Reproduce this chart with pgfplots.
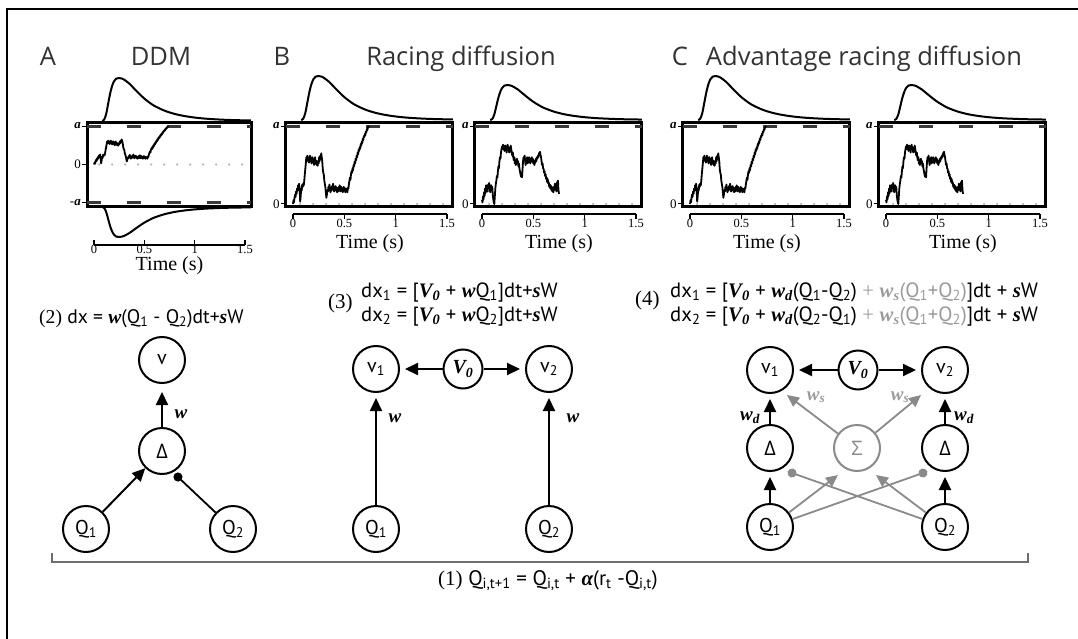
\documentclass[border=0pt]{standalone}
\usepackage{fontspec}
\setmainfont{PT Sans}
\newfontfamily\tm{Liberation Serif}
\newfontfamily\gr{Open Sans}
\usepackage{pgfplots}
\usepackage{pgfplotstable}
\pgfplotsset{compat=1.18}
\usetikzlibrary{arrows.meta}
\definecolor{txt}{HTML}{333333}
\definecolor{cDash}{HTML}{3A3A3A}
\definecolor{cDot}{HTML}{B4B4B4}
\definecolor{gA}{HTML}{8A8A8A}
\definecolor{gT}{HTML}{9A9A9A}
\definecolor{cBrk}{HTML}{6E6E6E}
\newcommand\bi[1]{{\tm\bfseries\itshape #1}}
\newcommand\sub[1]{\textsubscript{#1}}

\pgfplotstableread{
t d
0.08 0
0.1 0.03
0.12 0.16
0.14 0.4
0.16 0.64
0.18 0.82
0.2 0.93
0.22 0.985
0.25 1
0.28 0.985
0.3 0.96
0.35 0.87
0.4 0.75
0.45 0.63
0.5 0.52
0.55 0.43
0.6 0.35
0.7 0.24
0.8 0.165
0.9 0.115
1.0 0.08
1.1 0.056
1.2 0.04
1.3 0.028
1.4 0.02
1.5 0.015
1.5566 0.013
}\dens

\pgfplotstableread{
t v
0.00 0.00
0.005 0.05
0.01 0.02
0.015 0.08
0.02 0.12
0.025 0.09
0.03 0.16
0.035 0.13
0.04 0.2
0.045 0.17
0.05 0.24
0.055 0.2
0.06 0.26
0.065 0.18
0.07 0.03
0.075 0.1
0.08 0.2
0.085 0.17
0.09 0.25
0.095 0.22
0.1 0.26
0.105 0.24
0.11 0.3
0.115 0.38
0.12 0.45
0.125 0.52
0.13 0.6
0.135 0.56
0.14 0.62
0.145 0.55
0.15 0.59
0.155 0.53
0.16 0.58
0.165 0.62
0.17 0.55
0.175 0.6
0.18 0.52
0.185 0.57
0.19 0.6
0.195 0.53
0.2 0.58
0.205 0.5
0.21 0.55
0.215 0.6
0.22 0.52
0.225 0.56
0.23 0.5
0.235 0.55
0.24 0.49
0.245 0.55
0.25 0.52
0.255 0.6
0.26 0.55
0.265 0.62
0.27 0.58
0.275 0.65
0.28 0.6
0.285 0.55
0.29 0.45
0.295 0.4
0.3 0.38
0.305 0.3
0.31 0.26
0.315 0.22
0.32 0.15
0.325 0.08
0.33 0.12
0.335 0.18
0.34 0.16
0.345 0.22
0.35 0.18
0.355 0.25
0.36 0.2
0.365 0.15
0.37 0.2
0.375 0.17
0.38 0.23
0.385 0.19
0.39 0.26
0.395 0.2
0.4 0.16
0.405 0.22
0.41 0.18
0.415 0.23
0.42 0.17
0.425 0.21
0.43 0.15
0.435 0.2
0.44 0.16
0.445 0.22
0.45 0.17
0.455 0.24
0.46 0.2
0.465 0.16
0.47 0.22
0.475 0.18
0.48 0.2
0.485 0.15
0.49 0.19
0.495 0.22
0.5 0.17
0.505 0.2
0.51 0.15
0.515 0.2
0.52 0.16
0.525 0.19
0.53 0.15
0.535 0.21
0.54 0.2
0.545 0.26
0.55 0.3
0.555 0.34
0.56 0.31
0.565 0.38
0.57 0.42
0.575 0.4
0.58 0.46
0.585 0.43
0.59 0.5
0.595 0.48
0.6 0.54
0.605 0.52
0.61 0.58
0.615 0.56
0.62 0.62
0.625 0.6
0.63 0.66
0.635 0.64
0.64 0.7
0.645 0.68
0.65 0.73
0.655 0.71
0.66 0.77
0.665 0.75
0.67 0.8
0.675 0.78
0.68 0.84
0.685 0.82
0.69 0.87
0.695 0.86
0.7 0.9
0.705 0.88
0.71 0.93
0.715 0.92
0.72 0.96
0.725 0.95
0.73 0.98
0.74 1.0
}\pathone

\pgfplotstableread{
t v
0 0.05
0.005 0.02
0.01 0.1
0.015 0.06
0.02 0.15
0.025 0.1
0.03 0.2
0.035 0.14
0.04 0.24
0.045 0.18
0.05 0.22
0.055 0.16
0.06 0.25
0.065 0.2
0.07 0.27
0.075 0.22
0.08 0.15
0.085 0.2
0.09 0.24
0.095 0.18
0.1 0.22
0.105 0.12
0.11 0.06
0.115 0.02
0.12 0.0
0.125 0.1
0.13 0.2
0.135 0.26
0.14 0.3
0.145 0.36
0.15 0.34
0.155 0.42
0.16 0.48
0.165 0.46
0.17 0.55
0.175 0.6
0.18 0.58
0.185 0.66
0.19 0.7
0.195 0.74
0.2 0.72
0.205 0.76
0.21 0.7
0.215 0.74
0.22 0.68
0.225 0.75
0.23 0.7
0.235 0.74
0.24 0.66
0.245 0.72
0.25 0.76
0.255 0.7
0.26 0.73
0.265 0.66
0.27 0.72
0.275 0.67
0.28 0.75
0.285 0.7
0.29 0.66
0.295 0.62
0.3 0.66
0.305 0.6
0.31 0.56
0.315 0.6
0.32 0.52
0.325 0.55
0.33 0.5
0.335 0.56
0.34 0.58
0.345 0.52
0.35 0.55
0.355 0.48
0.36 0.52
0.365 0.45
0.37 0.42
0.375 0.38
0.38 0.35
0.385 0.4
0.39 0.34
0.395 0.45
0.4 0.55
0.405 0.6
0.41 0.56
0.415 0.62
0.42 0.55
0.425 0.5
0.43 0.58
0.435 0.55
0.44 0.6
0.445 0.52
0.45 0.58
0.455 0.54
0.46 0.6
0.465 0.56
0.47 0.52
0.475 0.58
0.48 0.55
0.485 0.6
0.49 0.54
0.495 0.58
0.5 0.52
0.505 0.56
0.51 0.5
0.515 0.55
0.52 0.53
0.525 0.58
0.53 0.55
0.535 0.6
0.54 0.58
0.545 0.62
0.55 0.6
0.555 0.65
0.56 0.64
0.565 0.67
0.57 0.63
0.575 0.6
0.58 0.55
0.585 0.5
0.59 0.52
0.595 0.46
0.6 0.45
0.605 0.4
0.61 0.42
0.615 0.36
0.62 0.38
0.625 0.32
0.63 0.34
0.635 0.28
0.64 0.32
0.645 0.26
0.65 0.28
0.655 0.22
0.66 0.25
0.665 0.2
0.67 0.24
0.675 0.18
0.68 0.22
0.685 0.16
0.69 0.2
0.695 0.15
0.7 0.22
0.705 0.18
0.71 0.26
0.715 0.2
0.72 0.24
0.725 0.16
0.73 0.28
0.735 0.22
0.74 0.3
0.745 0.18
0.75 0.13
}\pathtwo

\pgfplotsset{
  /pgf/number format/assume math mode=true,
  boxax/.style={scale only axis, width=167pt, height=84pt, xmin=-0.07, xmax=1.5566,
    ymin=-0.0385, ymax=1.0385, axis line style={line width=3pt}, xtick=\empty,
    ytick={0,1}, yticklabels={0,\bi{a}}, ytick pos=left, tick align=outside,
    major tick length=5pt, tick style={line width=1pt,black},
    yticklabel style={font=\tm\fontsize{13}{14}\selectfont, inner sep=1pt},
    clip=false, anchor=south west},
  densax/.style={scale only axis, width=167pt, xmin=-0.07, xmax=1.5566, ymin=0, ymax=1,
    hide axis, clip=false, anchor=south west},
  timeax/.style={scale only axis, width=154pt, height=10pt, xmin=0, xmax=1.5, ymin=0, ymax=1,
    axis x line=bottom, axis y line=none, axis line style={-, line width=1.8pt},
    xtick={0,0.5,1,1.5}, xticklabels={0,0.5,1,1.5}, ytick=\empty, tick align=outside,
    major tick length=5pt, tick style={line width=1.5pt, black},
    xticklabel style={font=\tm\fontsize{12.5}{14}\selectfont, inner sep=0pt},
    xlabel={Time (s)}, xlabel style={font=\tm\fontsize{20}{22}\selectfont,
      at={(axis description cs:0.5,0)}, anchor=center, yshift=-30pt},
    anchor=south west, clip=false},
  walk/.style={black, line width=1.8pt, line join=round},
  dens/.style={black, line width=2pt, smooth},
  aline/.style={cDash, line width=3pt, dash pattern=on 14pt off 26pt},
  zline/.style={cDot, line width=2.6pt, line cap=round, dash pattern=on 0pt off 13pt},
}
\tikzset{
  cn/.style={circle, draw, line width=2pt, minimum size=46pt, inner sep=0pt, font=\fontsize{20}{22}\selectfont},
  cs/.style={cn, minimum size=39pt},
  ar/.style={line width=2pt, -{Triangle[length=13pt,width=12pt]}, shorten >=5pt},
  gar/.style={gA, line width=1.8pt, -{Triangle[length=12pt,width=11pt]}},
  dt/.style={line width=1.8pt, -{Circle[length=9pt]}},
}

\begin{document}
\begin{tikzpicture}
\path[use as bounding box] (0pt,0pt) rectangle (1078pt,-639pt);
\draw[line width=1.5pt] (7pt,-639pt) -- (7pt,-9pt) -- (1078pt,-9pt);

% ---------- Panel A ----------
\begin{axis}[boxax, at={(87pt,-206pt)}, width=164pt, height=83pt, xmin=-0.07, xmax=1.559,
  ymin=-1.078, ymax=1.078, ytick={-1,0,1}, yticklabels={-\bi{a},0,\bi{a}}]
\addplot[zline] coordinates {(0.05,0) (1.559,0)};
\addplot[aline] coordinates {(-0.07,1) (1.559,1)};
\addplot[aline] coordinates {(-0.07,-1) (1.559,-1)};
\addplot[walk] table[x=t,y=v] {\pathone};
\end{axis}
\begin{axis}[densax, at={(87pt,-121pt)}, width=164pt, height=43pt, xmin=-0.07, xmax=1.559]
\addplot[dens] table[x=t,y=d] {\dens};
\end{axis}
\begin{axis}[densax, at={(87pt,-207pt)}, anchor=north west, width=164pt, height=30pt, xmin=-0.07, xmax=1.559, y dir=reverse]
\addplot[dens] table[x=t,y=d] {\dens};
\end{axis}
\begin{axis}[timeax, at={(94pt,-245pt)}, width=151pt, tick align=inside,
  xticklabel style={yshift=-0.3pt}, xlabel style={yshift=9pt}]
\end{axis}

% ---------- Panel B1 ----------
\begin{axis}[boxax, at={(285.8pt,-207pt)}]
\addplot[zline] coordinates {(0.07,0) (1.55,0)};
\addplot[aline] coordinates {(-0.07,1) (1.5566,1)};
\addplot[walk] table[x=t,y=v] {\pathone};
\end{axis}
\begin{axis}[densax, at={(285.8pt,-120pt)}, height=44pt]
\addplot[dens] table[x=t,y=d] {\dens};
\end{axis}
\begin{axis}[timeax, at={(293pt,-214pt)}]
\end{axis}

% ---------- Panel B2 ----------
\begin{axis}[boxax, at={(474.8pt,-207pt)}]
\addplot[zline] coordinates {(0.07,0) (1.55,0)};
\addplot[aline] coordinates {(-0.07,1) (1.5566,1)};
\addplot[walk] table[x=t,y=v] {\pathtwo};
\end{axis}
\begin{axis}[densax, at={(474.8pt,-120pt)}, height=35pt]
\addplot[dens] table[x=t,y=d] {\dens};
\end{axis}
\begin{axis}[timeax, at={(482pt,-214pt)}]
\end{axis}

% ---------- Panel C1 ----------
\begin{axis}[boxax, at={(682.8pt,-207pt)}]
\addplot[zline] coordinates {(0.07,0) (1.55,0)};
\addplot[aline] coordinates {(-0.07,1) (1.5566,1)};
\addplot[walk] table[x=t,y=v] {\pathone};
\end{axis}
\begin{axis}[densax, at={(682.8pt,-120pt)}, height=44pt]
\addplot[dens] table[x=t,y=d] {\dens};
\end{axis}
\begin{axis}[timeax, at={(690pt,-214pt)}]
\end{axis}

% ---------- Panel C2 ----------
\begin{axis}[boxax, at={(878.8pt,-207pt)}]
\addplot[zline] coordinates {(0.07,0) (1.55,0)};
\addplot[aline] coordinates {(-0.07,1) (1.5566,1)};
\addplot[walk] table[x=t,y=v] {\pathtwo};
\end{axis}
\begin{axis}[densax, at={(878.8pt,-120pt)}, height=35pt]
\addplot[dens] table[x=t,y=d] {\dens};
\end{axis}
\begin{axis}[timeax, at={(886pt,-214pt)}]
\end{axis}

\begin{scope}[x=1pt, y=-1pt]
% titles
\begin{scope}[every node/.style={text=txt, inner sep=0pt, font=\gr\fontsize{25.5}{30}\selectfont}]
\node[anchor=base] at (48,66) {A};
\node[anchor=base] at (161,66) {DDM};
\node[anchor=base] at (282,66) {B};
\node[anchor=base] at (461,66) {Racing diffusion};
\node[anchor=base] at (680,66) {C};
\node[anchor=base] at (864,66) {Advantage racing diffusion};
\end{scope}

% equations
\begin{scope}[every node/.style={inner sep=0pt}]
\node[anchor=base west, font=\fontsize{19.6}{22}\selectfont] at (39,323) {{\tm (2)} dx = \bi{w}(Q\sub{1} - Q\sub{2})dt+\bi{s}W};
\node[anchor=base west, font=\fontsize{21}{22}\selectfont] at (328,308) {\tm (3)};
\node[anchor=base west, font=\fontsize{20.6}{22}\selectfont] at (361,297) {dx\sub{1} = [\bi{V}\sub{\bi{0}} + \bi{w}Q\sub{1}]dt+\bi{s}W};
\node[anchor=base west, font=\fontsize{20.6}{22}\selectfont] at (361,321) {dx\sub{2} = [\bi{V}\sub{\bi{0}} + \bi{w}Q\sub{2}]dt+\bi{s}W};
\node[anchor=base west, font=\fontsize{21}{22}\selectfont] at (635,305) {\tm (4)};
\node[anchor=base west, font=\fontsize{20.7}{22}\selectfont] at (670,297) {dx\sub{1} = [\bi{V}\sub{\bi{0}} + \bi{w}\sub{\bi{d}}(Q\sub{1}-Q\sub{2}) {\color{gT}{\tm+} \bi{w}\sub{\bi{s}}(Q\sub{1}+Q\sub{2})}]dt + \bi{s}W};
\node[anchor=base west, font=\fontsize{20.7}{22}\selectfont] at (670,321) {dx\sub{2} = [\bi{V}\sub{\bi{0}} + \bi{w}\sub{\bi{d}}(Q\sub{2}-Q\sub{1}) {\color{gT}{\tm+} \bi{w}\sub{\bi{s}}(Q\sub{1}+Q\sub{2})}]dt + \bi{s}W};
\node[anchor=base, font=\fontsize{21}{24}\selectfont] at (548,585) {{\tm (1)} Q\sub{i,t+1} = Q\sub{i,t} + \bi{α}(r\sub{t} -Q\sub{i,t})};
\end{scope}

% diagram A
\node[cn] (Av) at (162,360) {v};
\node[cn] (AD) at (162,451) {{\gr Δ}};
\node[cn] (AQ1) at (86,529) {Q\sub{1}};
\node[cn] (AQ2) at (233,529) {Q\sub{2}};
\draw[ar, shorten >=8pt] (AD) -- (Av);
\draw[ar, shorten >=0pt] (AQ1) -- (AD);
\draw[dt] (AQ2) -- (174.7,473.9);
\node[font=\fontsize{19}{22}\selectfont] at (181,414) {\bi{w}};

% diagram B
\node[cn] (Bv1) at (376,369) {v\sub{1}};
\node[cs] (BV0) at (463,369) {\bi{V}\sub{\bi{0}}};
\node[cn] (Bv2) at (549,369) {v\sub{2}};
\node[cn] (BQ1) at (376,529) {Q\sub{1}};
\node[cn] (BQ2) at (549,529) {Q\sub{2}};
\draw[ar] (BV0) -- (Bv1);
\draw[ar] (BV0) -- (Bv2);
\draw[ar] (BQ1) -- (Bv1);
\draw[ar] (BQ2) -- (Bv2);
\node[font=\fontsize{19}{22}\selectfont] at (395,418) {\bi{w}};
\node[font=\fontsize{19}{22}\selectfont] at (573,418) {\bi{w}};

% diagram C
\node[cn] (Cv1) at (770,370) {v\sub{1}};
\node[cs] (CV0) at (858,370) {\bi{V}\sub{\bi{0}}};
\node[cn] (Cv2) at (945,370) {v\sub{2}};
\node[cn] (CD1) at (770,448) {{\gr Δ}};
\node[cn, draw=gA, text=gA] (CS) at (857,448) {{\gr Σ}};
\node[cn] (CD2) at (945,448) {{\gr Δ}};
\node[cn] (CQ1) at (770,527) {Q\sub{1}};
\node[cn] (CQ2) at (945,527) {Q\sub{2}};
\draw[gar] (CQ1) -- (838,475);
\draw[gar] (CQ2) -- (876,475);
\draw[dt, gA] (CQ1) -- (927.2,471.5);
\draw[dt, gA] (CQ2) -- (787.8,471.5);
\draw[gar] (CS) -- (787,395);
\draw[gar] (CS) -- (921,395);
\draw[ar] (CV0) -- (Cv1);
\draw[ar] (CV0) -- (Cv2);
\draw[ar] (CD1) -- (Cv1);
\draw[ar] (CD2) -- (Cv2);
\draw[ar] (CQ1) -- (CD1);
\draw[ar] (CQ2) -- (CD2);
\node[font=\fontsize{19}{22}\selectfont] at (750,418) {\bi{w}\sub{\bi{d}}};
\node[font=\fontsize{19}{22}\selectfont] at (964,418) {\bi{w}\sub{\bi{d}}};
\node[font=\fontsize{19}{22}\selectfont, text=gT] at (816,397) {\bi{w}\sub{\bi{s}}};
\node[font=\fontsize{19}{22}\selectfont, text=gT] at (900,397) {\bi{w}\sub{\bi{s}}};

% bracket
\draw[cBrk, line width=1.5pt] (52,553) -- (52,562) -- (1028,562) -- (1028,553);
\end{scope}
\end{tikzpicture}
\end{document}
